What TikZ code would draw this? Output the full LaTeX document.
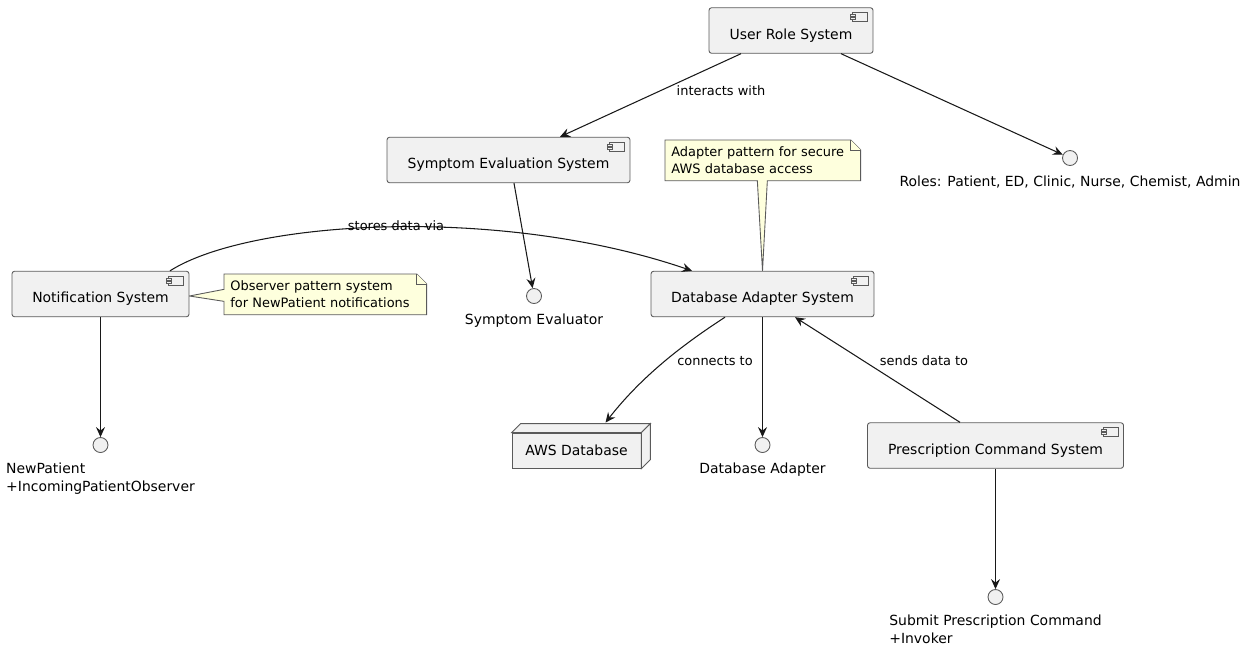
\documentclass[tikz,border=0pt]{standalone}
\usepackage{fontspec}
\setmainfont{DejaVu Sans}
\usetikzlibrary{arrows.meta,backgrounds}
\definecolor{compfill}{HTML}{F1F1F1}
\definecolor{lineclr}{HTML}{181818}
\definecolor{bordclr}{HTML}{5A5A5A}
\definecolor{notefill}{HTML}{FEFFDD}
\newcommand\cicon[1]{%
  \draw[iconstyle] (#1.north east) ++(-21,5) rectangle ++(15,9);
  \draw[iconstyle] (#1.north east) ++(-23,7) rectangle ++(5,2);
  \draw[iconstyle] (#1.north east) ++(-23,10) rectangle ++(5,2);
}
\tikzset{
  comp/.style={draw=bordclr, line width=0.5pt, fill=compfill, rounded corners=0.05cm,
    inner sep=0pt, minimum height=0.91cm},
  complab/.style={font=\fontsize{7.94pt}{9.5pt}\selectfont, yshift=-0.1cm, inner sep=0pt},
  iconstyle/.style={draw=bordclr, line width=0.35pt, fill=compfill},
  iface/.style={circle, draw=bordclr, fill=compfill, line width=0.5pt, minimum size=0.3cm, inner sep=0pt},
  ifacelab/.style={font=\fontsize{7.94pt}{10.2pt}\selectfont, align=left, inner sep=0pt},
  elab/.style={font=\fontsize{7.37pt}{9pt}\selectfont, inner sep=0pt},
  notetext/.style={font=\fontsize{7.37pt}{9.64pt}\selectfont, align=left, inner xsep=0.12cm,
    inner ysep=0pt, anchor=north west, minimum height=0.8cm},
  noteshape/.style={draw=bordclr, fill=notefill, line width=0.5pt, line join=miter},
  arr/.style={draw=lineclr, line width=0.6pt, -{Stealth[length=0.2cm,width=0.18cm,inset=0.07cm]}},
  nodebox/.style={draw=bordclr, line width=0.5pt, fill=compfill, inner sep=0pt,
    minimum width=2.58cm, minimum height=0.7cm, font=\fontsize{7.94pt}{9.5pt}\selectfont}
}
\begin{document}
\begin{tikzpicture}[x=0.02cm,y=-0.02cm]
\useasboundingbox (0,0) rectangle (1250,650);

% components
\node[comp, minimum width=3.28cm, label={[complab]center:User Role System}] (ur) at (791,30.5) {};
\node[comp, minimum width=4.86cm, label={[complab]center:Symptom Evaluation System}] (se) at (508.5,160) {};
\node[comp, minimum width=3.54cm, label={[complab]center:Notification System}] (ns) at (100.5,294) {};
\node[comp, minimum width=4.46cm, label={[complab]center:Database Adapter System}] (da) at (762.5,294) {};
\node[comp, minimum width=5.12cm, label={[complab]center:Prescription Command System}] (pc) at (995.5,445.5) {};
\cicon{ur}\cicon{se}\cicon{ns}\cicon{da}\cicon{pc}

% AWS database node (3D box)
\node[nodebox] (aws) at (576.5,450.5) {AWS Database};
\draw[draw=bordclr, line width=0.5pt, fill=compfill, line join=miter]
  (aws.north west) -- ++(9,-9) -- ([shift={(9,-9)}]aws.north east) -- (aws.north east) -- cycle;
\draw[draw=bordclr, line width=0.5pt, fill=compfill, line join=miter]
  (aws.north east) -- ++(9,-9) -- ([shift={(9,-9)}]aws.south east) -- (aws.south east) -- cycle;

% interfaces
\node[iface, label={[ifacelab, label distance=0.19cm]below:Roles: Patient, ED, Clinic, Nurse, Chemist, Admin}] (roles) at (1070,158) {};
\node[iface, label={[ifacelab, label distance=0.19cm]below:Symptom Evaluator}] (sev) at (534,296) {};
\node[iface, label={[ifacelab, label distance=0.19cm]below:NewPatient\\+IncomingPatientObserver}] (np) at (100.5,445) {};
\node[iface, label={[ifacelab, label distance=0.19cm]below:Database Adapter}] (dai) at (762.5,445) {};
\node[iface, label={[ifacelab, label distance=0.19cm]below:Submit Prescription Command\\+Invoker}] (spc) at (995.5,597) {};

% notes
\node[notetext, text width=3.66cm, minimum width=3.9cm] (n1) at (665,140) {Adapter pattern for secure\\AWS database access};
\node[notetext, text width=3.8cm, minimum width=4.04cm] (n2) at (224,274) {Observer pattern system\\for NewPatient notifications};
\begin{pgfonlayer}{background}
\draw[noteshape] (n1.north west) -- ([xshift=-0.2cm]n1.north east) -- ([yshift=-0.2cm]n1.north east)
  -- (n1.south east) -- ([xshift=0.09cm]n1.south) -- (da.north) -- ([xshift=-0.11cm]n1.south)
  -- (n1.south west) -- cycle;
\draw[noteshape] ([xshift=-0.2cm]n1.north east) -- ([xshift=-0.2cm,yshift=-0.2cm]n1.north east) -- ([yshift=-0.2cm]n1.north east);
\draw[noteshape] (n2.north west) -- ([xshift=-0.2cm]n2.north east) -- ([yshift=-0.2cm]n2.north east)
  -- (n2.south east) -- (n2.south west) -- ([yshift=-0.14cm]n2.west) -- ([yshift=-0.04cm]ns.east)
  -- ([yshift=0.1cm]n2.west) -- cycle;
\draw[noteshape] ([xshift=-0.2cm]n2.north east) -- ([xshift=-0.2cm,yshift=-0.2cm]n2.north east) -- ([yshift=-0.2cm]n2.north east);
\end{pgfonlayer}

% connectors
\draw[arr] ([xshift=-1cm]ur.south) -- ([xshift=1.03cm]se.north);
\draw[arr] ([xshift=1cm]ur.south) -- (roles);
\draw[arr] ([xshift=0.11cm]se.south) -- (sev);
\draw[arr] ([xshift=1.39cm]ns.north) .. controls (250,220) and (500,205) .. ([xshift=-1.41cm]da.north);
\draw[arr] (ns.south) -- (np);
\draw[arr] ([xshift=-0.75cm]da.south) .. controls (690,340) and (645,372) .. ([xshift=0.58cm,yshift=0.2cm]aws.north);
\draw[arr] (da.south) -- (dai);
\draw[arr] ([xshift=-0.71cm]pc.north) -- ([xshift=0.65cm]da.south);
\draw[arr] (pc.south) -- (spc);

% connector labels
\node[elab] (l1) at (721,91) {interacts with};
\node[elab] (l2) at (396,226) {stores data via};
\node[elab] (l3) at (715,361) {connects to};
\node[elab] (l4) at (924,361) {sends data to};
\end{tikzpicture}
\end{document}
